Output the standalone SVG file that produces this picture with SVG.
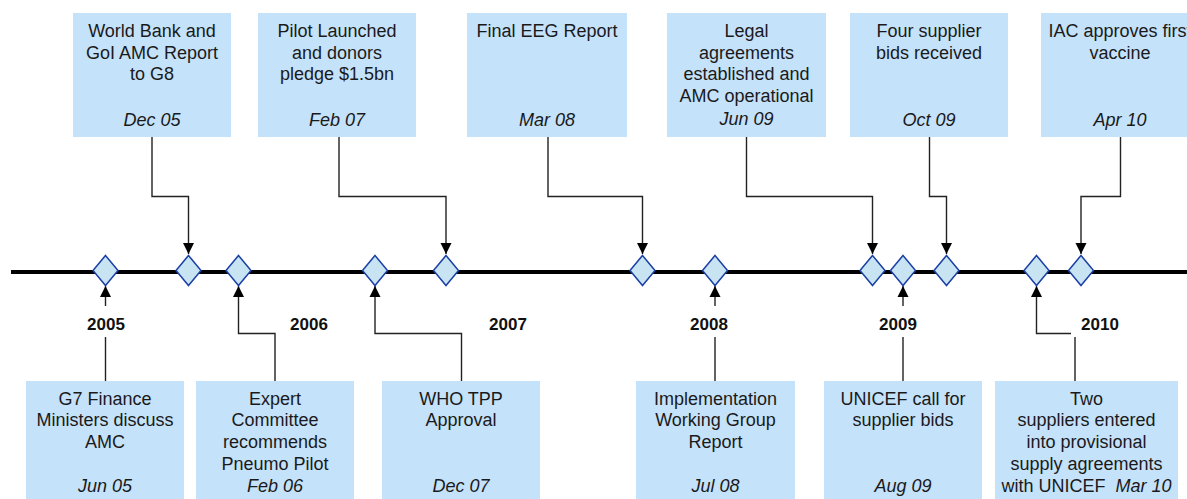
<svg xmlns="http://www.w3.org/2000/svg" width="1187" height="499" viewBox="0 0 1187 499">
<defs>
<style>
.box{fill:#c5e2fb;}
.t{font-family:"Liberation Sans",Arial,sans-serif;font-size:18px;fill:#1a1a1a;text-anchor:middle;}
.d{font-style:italic;}
.yr{font-family:"Liberation Sans",Arial,sans-serif;font-size:17px;font-weight:bold;fill:#111;text-anchor:middle;}
.c{fill:none;stroke:#222;stroke-width:1.4;}
.dia{fill:#c8e4f2;stroke:#1a3fa6;stroke-width:1.5;}
.lbg{fill:#fff;}
</style>
<marker id="ah" markerUnits="userSpaceOnUse" markerWidth="12" markerHeight="12" viewBox="0 0 12 12" refX="11" refY="6" orient="auto">
<path d="M0,0.5 L11,6 L0,11.5 Z" fill="#000"/>
</marker>
</defs>

<g id="timeline">
<line x1="11" y1="272" x2="1187" y2="272" stroke="#000" stroke-width="4"/>
</g>

<g id="connectors">
<!-- top -->
<path class="c" d="M152,137 V196.5 H188.5 V254" marker-end="url(#ah)"/>
<path class="c" d="M339,137 V196.5 H446 V254" marker-end="url(#ah)"/>
<path class="c" d="M548,137 V196.5 H642.5 V254" marker-end="url(#ah)"/>
<path class="c" d="M746.5,137 V196.5 H872.5 V254" marker-end="url(#ah)"/>
<path class="c" d="M929.5,137 V196.5 H946.5 V254" marker-end="url(#ah)"/>
<path class="c" d="M1120.5,137 V196.5 H1081 V254" marker-end="url(#ah)"/>
<!-- bottom -->
<path class="c" d="M105.5,381 V286" marker-end="url(#ah)"/>
<path class="c" d="M275,381 V333.5 H238.5 V286" marker-end="url(#ah)"/>
<path class="c" d="M461.5,381 V333.5 H375 V286" marker-end="url(#ah)"/>
<path class="c" d="M715,381 V286" marker-end="url(#ah)"/>
<path class="c" d="M903,381 V286" marker-end="url(#ah)"/>
<path class="c" d="M1075,381 V333.5 H1036.5 V286" marker-end="url(#ah)"/>
</g>

<g id="markers">
<path class="dia" d="M105.5,255.5 l12.5,15 l-12.5,15 l-12.5,-15 Z"/>
<path class="dia" d="M188.5,255.5 l12.5,15 l-12.5,15 l-12.5,-15 Z"/>
<path class="dia" d="M238.5,255.5 l12.5,15 l-12.5,15 l-12.5,-15 Z"/>
<path class="dia" d="M375,255.5 l12.5,15 l-12.5,15 l-12.5,-15 Z"/>
<path class="dia" d="M446,255.5 l12.5,15 l-12.5,15 l-12.5,-15 Z"/>
<path class="dia" d="M642.5,255.5 l12.5,15 l-12.5,15 l-12.5,-15 Z"/>
<path class="dia" d="M715,255.5 l12.5,15 l-12.5,15 l-12.5,-15 Z"/>
<path class="dia" d="M872.5,255.5 l12.5,15 l-12.5,15 l-12.5,-15 Z"/>
<path class="dia" d="M903,255.5 l12.5,15 l-12.5,15 l-12.5,-15 Z"/>
<path class="dia" d="M946.5,255.5 l12.5,15 l-12.5,15 l-12.5,-15 Z"/>
<path class="dia" d="M1036.5,255.5 l12.5,15 l-12.5,15 l-12.5,-15 Z"/>
<path class="dia" d="M1081,255.5 l12.5,15 l-12.5,15 l-12.5,-15 Z"/>
</g>

<g id="years">
<rect class="lbg" x="80" y="306" width="52" height="31"/>
<text class="yr" x="106" y="330">2005</text>
<rect class="lbg" x="283" y="306" width="52" height="31"/>
<text class="yr" x="309" y="330">2006</text>
<rect class="lbg" x="482" y="306" width="52" height="31"/>
<text class="yr" x="508" y="330">2007</text>
<rect class="lbg" x="683" y="306" width="52" height="31"/>
<text class="yr" x="709" y="330">2008</text>
<rect class="lbg" x="872" y="306" width="52" height="31"/>
<text class="yr" x="898" y="330">2009</text>
<rect class="lbg" x="1071" y="306" width="58" height="31"/>
<text class="yr" x="1100" y="330">2010</text>
</g>

<g id="ev-dec05">
<rect class="box" x="73" y="13" width="158" height="124"/>
<text class="t" x="152" y="37">World Bank and</text>
<text class="t" x="152" y="58.7">GoI AMC Report</text>
<text class="t" x="152" y="80.4">to G8</text>
<text class="t d" x="152" y="126">Dec 05</text>
</g>

<g id="ev-feb07">
<rect class="box" x="258" y="13" width="158" height="124"/>
<text class="t" x="337" y="37">Pilot Launched</text>
<text class="t" x="337" y="58.7">and donors</text>
<text class="t" x="337" y="80.4">pledge $1.5bn</text>
<text class="t d" x="337" y="126">Feb 07</text>
</g>

<g id="ev-mar08">
<rect class="box" x="467" y="13" width="160" height="124"/>
<text class="t" x="547" y="37">Final EEG Report</text>
<text class="t d" x="547" y="126">Mar 08</text>
</g>

<g id="ev-jun09">
<rect class="box" x="667" y="13" width="159" height="124"/>
<text class="t" x="746.5" y="37">Legal</text>
<text class="t" x="746.5" y="58.7">agreements</text>
<text class="t" x="746.5" y="80.4">established and</text>
<text class="t" x="746.5" y="102.1">AMC operational</text>
<text class="t d" x="746.5" y="124.5">Jun 09</text>
</g>

<g id="ev-oct09">
<rect class="box" x="850" y="13" width="158" height="124"/>
<text class="t" x="929" y="37">Four supplier</text>
<text class="t" x="929" y="58.7">bids received</text>
<text class="t d" x="929" y="126">Oct 09</text>
</g>

<g id="ev-apr10">
<rect class="box" x="1041" y="13" width="160" height="124"/>
<text class="t" x="1120" y="37">IAC approves first</text>
<text class="t" x="1120" y="58.7">vaccine</text>
<text class="t d" x="1120" y="126">Apr 10</text>
</g>

<g id="ev-jun05">
<rect class="box" x="26" y="381" width="158" height="130"/>
<text class="t" x="105" y="404.6">G7 Finance</text>
<text class="t" x="105" y="426.3">Ministers discuss</text>
<text class="t" x="105" y="448">AMC</text>
<text class="t d" x="105" y="492">Jun 05</text>
</g>

<g id="ev-feb06">
<rect class="box" x="196" y="381" width="158" height="130"/>
<text class="t" x="275" y="404.6">Expert</text>
<text class="t" x="275" y="426.3">Committee</text>
<text class="t" x="275" y="448">recommends</text>
<text class="t" x="275" y="469.7">Pneumo Pilot</text>
<text class="t d" x="275" y="491.5">Feb 06</text>
</g>

<g id="ev-dec07">
<rect class="box" x="382" y="381" width="158" height="130"/>
<text class="t" x="461" y="404.6">WHO TPP</text>
<text class="t" x="461" y="426.3">Approval</text>
<text class="t d" x="461" y="492">Dec 07</text>
</g>

<g id="ev-jul08">
<rect class="box" x="636" y="381" width="159" height="130"/>
<text class="t" x="715.5" y="404.6">Implementation</text>
<text class="t" x="715.5" y="426.3">Working Group</text>
<text class="t" x="715.5" y="448">Report</text>
<text class="t d" x="715.5" y="492">Jul 08</text>
</g>

<g id="ev-aug09">
<rect class="box" x="824" y="381" width="158" height="130"/>
<text class="t" x="903" y="404.6">UNICEF  call for</text>
<text class="t" x="903" y="426.3">supplier bids</text>
<text class="t d" x="903" y="492">Aug 09</text>
</g>

<g id="ev-mar10">
<rect class="box" x="995" y="381" width="183" height="130"/>
<text class="t" x="1086.5" y="404.6">Two</text>
<text class="t" x="1086.5" y="426.3">suppliers entered</text>
<text class="t" x="1086.5" y="448">into provisional</text>
<text class="t" x="1086.5" y="469.7">supply agreements</text>
<text class="t" x="1086.5" y="491.5" xml:space="preserve">with UNICEF  <tspan class="d">Mar 10</tspan></text>
</g>
</svg>
